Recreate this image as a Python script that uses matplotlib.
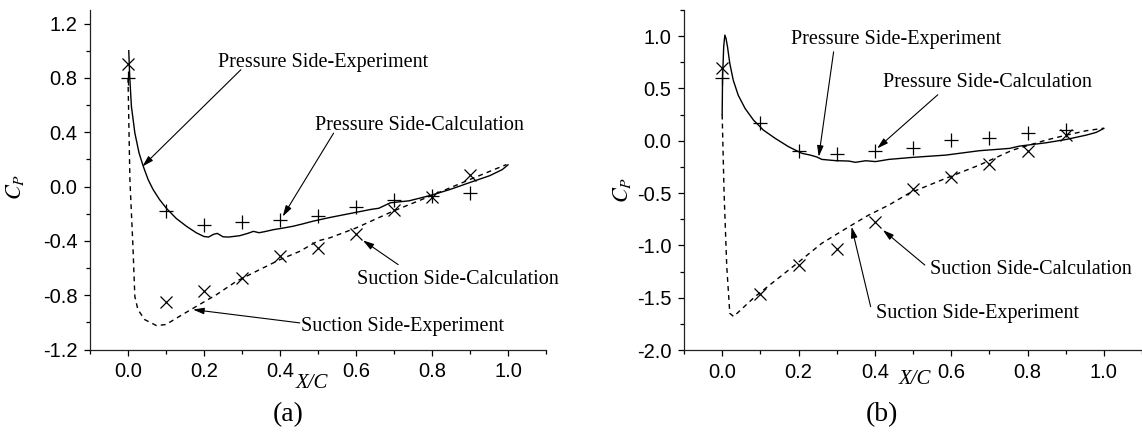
import matplotlib
matplotlib.use('Agg')
import matplotlib.pyplot as plt
from matplotlib.ticker import MultipleLocator, FormatStrFormatter

plt.rcParams['font.family'] = ['Liberation Sans', 'DejaVu Sans']
plt.rcParams['mathtext.fontset'] = 'stix'
plt.rcParams['axes.unicode_minus'] = False

# experiment stations
x_exp = [0.0, 0.1, 0.2, 0.3, 0.4, 0.5, 0.6, 0.7, 0.8, 0.9]

# (a)
a_ps_exp = [0.80, -0.18, -0.28, -0.26, -0.25, -0.22, -0.15, -0.10, -0.07, -0.05]
a_ss_exp = [0.90, -0.85, -0.77, -0.67, -0.51, -0.455, -0.35, -0.175, -0.075, 0.088]

a_ps_x = [0.002, 0.0045, 0.009, 0.018, 0.029, 0.04, 0.053, 0.066, 0.083, 0.101,
          0.127, 0.154, 0.18, 0.2, 0.212, 0.225, 0.235, 0.25, 0.265, 0.294,
          0.315, 0.33, 0.345, 0.36, 0.382, 0.41, 0.435, 0.46, 0.487, 0.531,
          0.6, 0.64, 0.66, 0.675, 0.69, 0.74, 0.794, 0.847, 0.9, 0.952,
          0.985, 1.0]
a_ps_cp = [1.00, 0.81, 0.59, 0.395, 0.248, 0.15, 0.051, -0.022, -0.096, -0.16,
           -0.235, -0.293, -0.341, -0.368, -0.372, -0.352, -0.345, -0.37, -0.372, -0.362,
           -0.345, -0.33, -0.34, -0.332, -0.318, -0.305, -0.292, -0.275, -0.255, -0.228,
           -0.19, -0.168, -0.16, -0.14, -0.12, -0.105, -0.067, -0.022, 0.03, 0.08,
           0.125, 0.16]

a_ss_x = [0.0, 0.005, 0.013, 0.018, 0.026, 0.044, 0.075, 0.1, 0.136, 0.18,
          0.233, 0.285, 0.347, 0.4, 0.452, 0.5, 0.531, 0.601, 0.697, 0.794,
          0.847, 0.899, 0.952, 0.996]
a_ss_cp = [0.80, 0.05, -0.44, -0.81, -0.906, -0.98, -1.024, -1.016, -0.955, -0.882,
           -0.796, -0.698, -0.611, -0.538, -0.477, -0.40, -0.378, -0.304, -0.182, -0.072,
           -0.01, 0.051, 0.112, 0.162]

# (b)
b_ps_exp = [0.60, 0.17, -0.10, -0.13, -0.10, -0.07, 0.01, 0.03, 0.07, 0.10]
b_ss_exp = [0.70, -1.46, -1.19, -1.03, -0.78, -0.465, -0.35, -0.223, -0.095, 0.054]

b_ps_x = [0.0, 0.001, 0.004, 0.007, 0.01, 0.014, 0.02, 0.029, 0.042, 0.06,
          0.082, 0.108, 0.139, 0.174, 0.209, 0.231, 0.248, 0.261, 0.297, 0.332,
          0.349, 0.376, 0.402, 0.437, 0.498, 0.586, 0.674, 0.753, 0.779, 0.849,
          0.902, 0.954, 0.98, 1.0]
b_ps_cp = [0.25, 0.60, 0.90, 1.01, 0.98, 0.898, 0.739, 0.58, 0.436, 0.309,
           0.198, 0.102, 0.023, -0.057, -0.12, -0.137, -0.155, -0.178, -0.19, -0.194,
           -0.206, -0.191, -0.199, -0.178, -0.159, -0.137, -0.095, -0.073, -0.051, -0.019,
           0.013, 0.054, 0.08, 0.118]

b_ss_x = [0.0, 0.005, 0.012, 0.02, 0.03, 0.086, 0.191, 0.261, 0.332, 0.384,
          0.437, 0.489, 0.586, 0.674, 0.761, 0.805, 0.849, 0.902, 0.954, 1.0]
b_ss_cp = [0.25, -0.5, -1.2, -1.649, -1.68, -1.49, -1.187, -0.98, -0.822, -0.71,
           -0.614, -0.503, -0.359, -0.232, -0.089, -0.041, 0.007, 0.054, 0.096, 0.12]

# annotations: text, text centre, arrow tail, arrow tip
a_notes = [
    ('Pressure Side-Experiment', (0.513, 0.915), (0.297, 0.86), (0.038, 0.148)),
    ('Pressure Side-Calculation', (0.768, 0.448), (0.541, 0.393), (0.407, -0.221)),
    ('Suction Side-Calculation', (0.867, -0.683), (0.711, -0.575), (0.618, -0.396)),
    ('Suction Side-Experiment', (0.722, -1.028), (0.452, -1.004), (0.171, -0.906)),
]
b_notes = [
    ('Pressure Side-Experiment', (0.4545, 0.965), (0.292, 0.85), (0.253, -0.153)),
    ('Pressure Side-Calculation', (0.696, 0.554), (0.565, 0.44), (0.406, -0.073)),
    ('Suction Side-Calculation', (0.81, -1.229), (0.531, -1.188), (0.421, -0.853)),
    ('Suction Side-Experiment', (0.668, -1.65), (0.389, -1.585), (0.339, -0.822)),
]

serif = ['Liberation Serif', 'DejaVu Serif']

fig = plt.figure(figsize=(11.42, 4.34), dpi=100)
ax_a = fig.add_axes([90 / 1142, 1 - 349.5 / 434, 456 / 1142, 339.5 / 434])
ax_b = fig.add_axes([684 / 1142, 1 - 350 / 434, 458 / 1142, 340 / 434])


def draw(ax, ps_x, ps_cp, ss_x, ss_cp, ps_exp, ss_exp, notes, ylim, ymaj, xlab_pos, ylab_pos):
    ax.plot(ps_x, ps_cp, color='k', lw=1.0)
    ax.plot(ss_x, ss_cp, color='k', lw=1.0, linestyle=(0, (3.5, 3)))
    ax.plot(x_exp, ps_exp, linestyle='none', marker='+', ms=10, mew=0.9, color='k')
    ax.plot(x_exp, ss_exp, linestyle='none', marker='x', ms=9, mew=0.9, color='k')

    for txt, tpos, tail, tip in notes:
        ax.text(tpos[0], tpos[1], txt, ha='center', va='center', fontsize=14.5, family=serif)
        ax.annotate('', xy=tip, xytext=tail,
                    arrowprops=dict(arrowstyle='-|>,head_length=0.55,head_width=0.16',
                                    color='k', lw=0.8, mutation_scale=12,
                                    shrinkA=0, shrinkB=0))

    ax.set_xlim(-0.1, 1.1)
    ax.set_ylim(*ylim)
    ax.xaxis.set_major_locator(MultipleLocator(0.2))
    ax.xaxis.set_minor_locator(MultipleLocator(0.1))
    ax.yaxis.set_major_locator(MultipleLocator(ymaj))
    ax.yaxis.set_minor_locator(MultipleLocator(ymaj / 2))
    ax.xaxis.set_major_formatter(FormatStrFormatter('%.1f'))
    ax.yaxis.set_major_formatter(FormatStrFormatter('%.1f'))
    ax.tick_params(which='major', direction='out', length=4, width=0.9, labelsize=14.5, pad=5)
    ax.tick_params(which='minor', direction='out', length=3, width=0.9)
    ax.spines['top'].set_visible(False)
    ax.spines['right'].set_visible(False)
    for s in ('left', 'bottom'):
        ax.spines[s].set_linewidth(0.9)
        ax.spines[s].set_color('#222222')

    ax.set_xlabel('X/C', fontsize=15, family=serif, style='italic', va='center')
    ax.xaxis.set_label_coords(*xlab_pos)
    ax.set_ylabel(r'$C_P$', fontsize=16, va='center')
    ax.yaxis.set_label_coords(*ylab_pos)


draw(ax_a, a_ps_x, a_ps_cp, a_ss_x, a_ss_cp, a_ps_exp, a_ss_exp, a_notes,
     (-1.2, 1.3), 0.4, (0.487, -0.099), (-0.164, 0.479))
draw(ax_b, b_ps_x, b_ps_cp, b_ss_x, b_ss_cp, b_ps_exp, b_ss_exp, b_notes,
     (-2.0, 1.25), 0.5, (0.504, -0.088), (-0.135, 0.47))

fig.text(288 / 1142, 1 - 415 / 434, '(a)', ha='center', va='center', fontsize=20, family=serif)
fig.text(882 / 1142, 1 - 415 / 434, '(b)', ha='center', va='center', fontsize=20, family=serif)

fig.savefig('out.png', dpi=100)
